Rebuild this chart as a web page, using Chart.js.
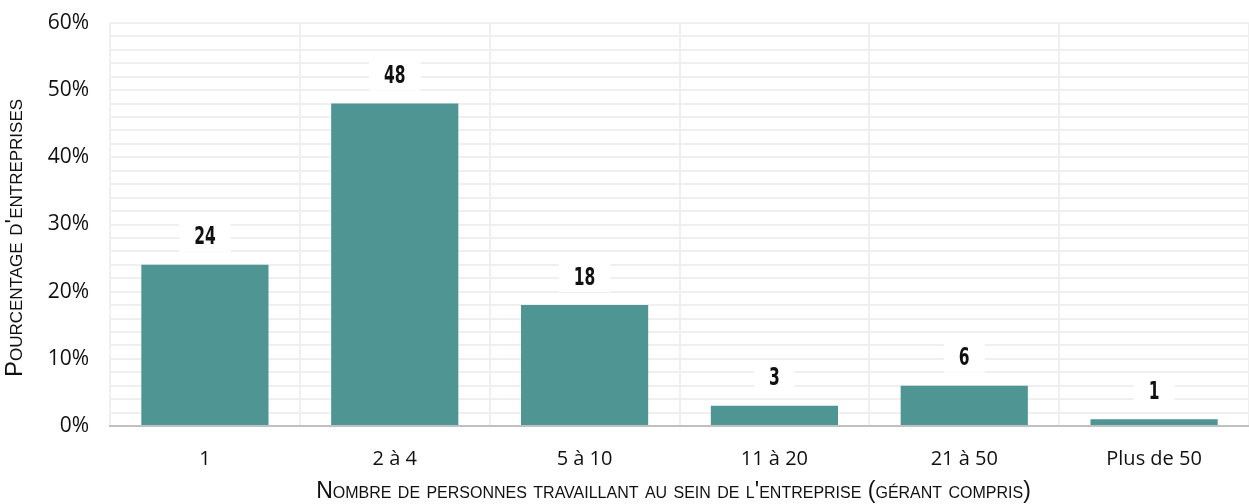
<!DOCTYPE html>
<html>
<head>
<meta charset="utf-8">
<script src="https://cdn.jsdelivr.net/npm/chart.js@4.4.0/dist/chart.umd.min.js"></script>
<style>
  html, body { margin: 0; padding: 0; background: #fff; }
  #wrap { width: 1249px; height: 504px; position: relative; }
</style>
</head>
<body>
<div id="wrap"><canvas id="c"></canvas></div>
<script>
const categories = ['1', '2 à 4', '5 à 10', '11 à 20', '21 à 50', 'Plus de 50'];
const values = [24, 48, 18, 3, 6, 1];
const yTitle = "Pourcentage d'entreprises";
const xTitle = "Nombre de personnes travaillant au sein de l'entreprise (gérant compris)";

// white-boxed value labels above bars, narrow heavy digits
const valueLabels = {
    id: 'valueLabels',
    afterDatasetsDraw(chart) {
        const ctx = chart.ctx;
        const meta = chart.getDatasetMeta(0);
        ctx.save();
        ctx.font = 'bold 25px "DejaVu Sans", sans-serif';
        ctx.textBaseline = 'middle';
        meta.data.forEach((bar, i) => {
            const txt = String(values[i]);
            const y = bar.y - 28;
            const tw = ctx.measureText(txt).width * 0.62;
            const w = tw + 30;
            ctx.fillStyle = '#fff';
            ctx.fillRect(bar.x - w / 2, y - 15, w, 30);
            ctx.save();
            ctx.translate(bar.x, y);
            ctx.scale(0.62, 1);
            ctx.textAlign = 'center';
            ctx.fillStyle = '#111';
            ctx.fillText(txt, 0, 1);
            ctx.restore();
        });
        ctx.restore();
    }
};

// small-caps axis titles, placed by hand
const axisTitles = {
    id: 'axisTitles',
    afterDraw(chart) {
        const ctx = chart.ctx;
        const area = chart.chartArea;
        ctx.save();
        ctx.fillStyle = '#111';
        ctx.textAlign = 'center';
        ctx.textBaseline = 'middle';
        ctx.font = 'small-caps 23px "Liberation Sans", Arial, sans-serif';
        ctx.fillText(xTitle, (area.left + area.right) / 2 - 6, 492);
        ctx.translate(15, 238);
        ctx.rotate(-Math.PI / 2);
        ctx.font = 'small-caps 24px "Liberation Sans", Arial, sans-serif';
        ctx.fillText(yTitle, 0, 0);
        ctx.restore();
    }
};

const ctx = document.getElementById('c').getContext('2d');
new Chart(ctx, {
    type: 'bar',
    data: {
        labels: categories,
        datasets: [{
            data: values,
            backgroundColor: '#4e9594',
            borderWidth: 0,
            barPercentage: 0.67,
            categoryPercentage: 1
        }]
    },
    options: {
        responsive: true,
        maintainAspectRatio: false,
        animation: false,
        layout: { padding: { top: 23, right: 0, left: 0, bottom: 0 } },
        plugins: {
            legend: { display: false },
            tooltip: { enabled: false }
        },
        scales: {
            x: {
                grid: {
                    offset: true,
                    color: '#efefef',
                    lineWidth: 2,
                    drawTicks: false
                },
                border: { color: '#c0c0c0', width: 2 },
                ticks: { color: '#111', font: { size: 20, family: '"Open Sans", sans-serif' }, padding: 21 },
                afterFit(scale) { scale.height = 78; }
            },
            y: {
                min: 0,
                max: 60,
                grid: { color: '#efefef', lineWidth: 2, drawTicks: false },
                border: { display: false },
                ticks: {
                    stepSize: 2,
                    autoSkip: false,
                    padding: 21,
                    color: '#111',
                    font: { size: 21, family: '"Open Sans", sans-serif' },
                    callback: v => (v % 10 === 0 ? v + '%' : '')
                },
                afterFit(scale) {
                    scale.width = 110;
                    scale.paddingTop = 0;
                    scale.paddingBottom = 0;
                }
            }
        }
    },
    plugins: [valueLabels, axisTitles]
});
</script>
</body>
</html>
